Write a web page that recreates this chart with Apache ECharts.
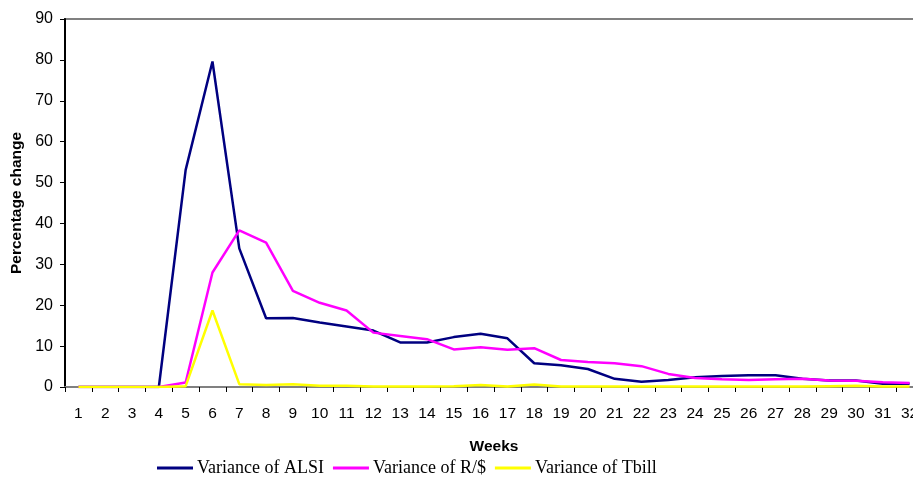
<!DOCTYPE html>
<html>
<head>
<meta charset="utf-8">
<script src="https://cdn.jsdelivr.net/npm/echarts@6/dist/echarts.min.js"></script>
<style>
  html, body { margin: 0; padding: 0; background: #fff; }
  #chart { width: 913px; height: 487px; }
</style>
</head>
<body>
<div id="chart"></div>
<script>
// Weekly variance (percentage change) of three market indicators
const weeks = Array.from({ length: 32 }, (_, i) => String(i + 1));

const alsi = [0, 0, 0, 0, 53.1, 79.6, 33.9, 16.8, 16.9, 15.8, 14.8, 13.8, 10.9, 10.9, 12.2, 13.0,
              11.9, 5.8, 5.3, 4.4, 2.0, 1.3, 1.7, 2.4, 2.7, 2.85, 2.9, 2.0, 1.6, 1.6, 0.8, 0.8];
const randDollar = [0, 0, 0, 0, 1.1, 28.0, 38.3, 35.3, 23.5, 20.6, 18.7, 13.3, 12.5, 11.7, 9.2, 9.7,
                    9.1, 9.5, 6.6, 6.1, 5.8, 5.1, 3.2, 2.2, 1.9, 1.7, 1.9, 2.0, 1.6, 1.5, 1.15, 1.0];
const tbill = [0, 0, 0, 0, 0.2, 18.7, 0.7, 0.5, 0.7, 0.3, 0.3, 0.1, 0.1, 0.1, 0.2, 0.5,
               0.1, 0.6, 0.1, 0.1, 0.1, 0.1, 0.1, 0.1, 0.1, 0.1, 0.1, 0.1, 0.2, 0.3, 0.1, 0.1];

const yTicks = { min: 0, max: 90, interval: 10 };

const seriesDefs = [
  { name: 'Variance of ALSI', data: alsi, color: '#000080' },
  { name: 'Variance of R/$', data: randDollar, color: '#FF00FF' },
  { name: 'Variance of Tbill', data: tbill, color: '#FFFF00' }
];

const chart = echarts.init(document.getElementById('chart'), null, { renderer: 'canvas' });

chart.setOption({
  animation: false,
  backgroundColor: '#ffffff',
  // plot area runs past the right edge of the canvas, so the last week is clipped
  grid: {
    left: 65, width: 858, top: 19, height: 368,
    outerBoundsMode: 'none',
    containLabel: false,
    show: true, borderColor: '#808080', borderWidth: 2, backgroundColor: 'transparent'
  },
  legend: {
    left: 157, top: 459, padding: 0,
    itemWidth: 36, itemHeight: 3, itemGap: 9,
    icon: 'rect',
    textStyle: { fontFamily: 'Liberation Serif', fontSize: 18, color: '#000', padding: [0, 0, 0, -1] },
    data: seriesDefs.map(s => s.name)
  },
  xAxis: {
    type: 'category',
    data: weeks,
    boundaryGap: true,
    name: 'Weeks',
    nameLocation: 'middle',
    nameGap: 52,
    nameTextStyle: { fontFamily: 'Liberation Sans', fontWeight: 'bold', fontSize: 15.5, color: '#000' },
    axisLine: { lineStyle: { color: '#808080', width: 2 } },
    axisTick: { show: true, length: 5, lineStyle: { color: '#000', width: 1 } },
    axisLabel: { margin: 19, fontFamily: 'Liberation Sans', fontSize: 15.5, color: '#000', interval: 0 },
    splitLine: { show: false }
  },
  yAxis: {
    type: 'value',
    min: yTicks.min, max: yTicks.max, interval: yTicks.interval,
    name: 'Percentage change',
    nameLocation: 'middle',
    nameGap: 36,
    nameRotate: 90,
    nameTextStyle: { fontFamily: 'Liberation Sans', fontWeight: 'bold', fontSize: 15.5, color: '#000' },
    axisLine: { show: true, lineStyle: { color: '#000', width: 2 } },
    axisTick: { show: true, length: 5, lineStyle: { color: '#000', width: 1 } },
    axisLabel: { margin: 12, fontFamily: 'Liberation Sans', fontSize: 16, color: '#000' },
    splitLine: { show: false }
  },
  series: seriesDefs.map(s => ({
    name: s.name,
    type: 'line',
    data: s.data,
    symbol: 'none',
    lineStyle: { color: s.color, width: 2.5 },
    itemStyle: { color: s.color }
  }))
});
</script>
</body>
</html>
